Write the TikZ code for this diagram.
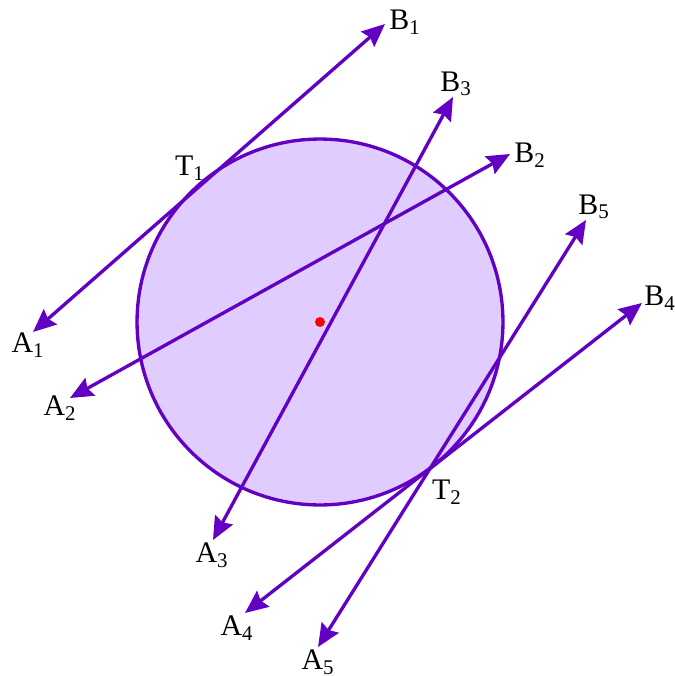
\documentclass[tikz,border=0pt]{standalone}
\usepackage{fontspec}
\setmainfont{Liberation Serif}
\usetikzlibrary{arrows.meta}
\definecolor{myviolet}{RGB}{98,0,196}
\definecolor{mylilac}{RGB}{224,204,255}

\begin{document}
\begin{tikzpicture}[x=0.02cm, y=-0.02cm,
  chord/.style={draw=myviolet, line width=1.9pt,
    {Stealth[length=0.46cm, width=0.4cm, inset=0.06cm]}-{Stealth[length=0.46cm, width=0.4cm, inset=0.06cm]}},
  ptlabel/.style={font=\fontsize{17}{20}\selectfont, inner sep=1pt}
]
\useasboundingbox (0,0) rectangle (675,676);
% circle and centre
\coordinate (O) at (320,322);
\draw[myviolet, line width=1.9pt, fill=mylilac] (O) circle[radius=3.66cm];
\fill[red] (O) circle[radius=0.1cm];
% lines A-B
\foreach \n/\ax/\ay/\bx/\by in {1/33/332/385/24, 2/70/398/510/154,
    3/213/540/453/97, 4/245/613/642/303, 5/318/647/586/220} {
  \coordinate (a\n) at (\ax,\ay);
  \coordinate (b\n) at (\bx,\by);
  \draw[chord] (a\n) -- (b\n);
}
% labels
\foreach \p/\n/\x/\y in {A/1/28/345, A/2/60/408, A/3/212/555, A/4/237/628, A/5/318/662,
    B/1/405/22, B/2/530/155, B/3/456/84, B/4/660/298, B/5/594/207,
    T/1/190/168, T/2/447/492} {
  \node[ptlabel] (\p\n) at (\x,\y) {\p\textsubscript{\n}};
}
\end{tikzpicture}
\end{document}
